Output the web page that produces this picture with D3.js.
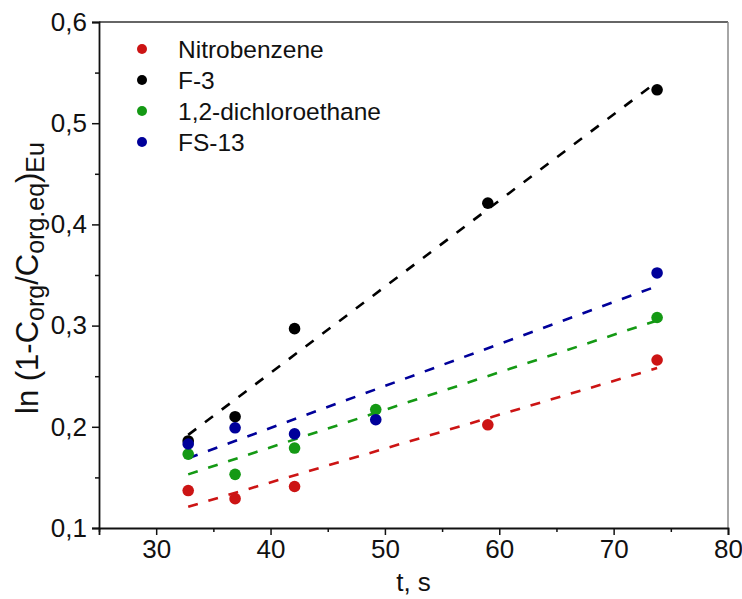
<!DOCTYPE html>
<html>
<head>
<meta charset="utf-8">
<script src="https://cdn.jsdelivr.net/npm/d3@7/dist/d3.min.js"></script>
<style>
  html, body { margin: 0; padding: 0; background: #fff; }
  svg { display: block; }
  text { font-family: "Liberation Sans", Arial, sans-serif; fill: #111; }
</style>
</head>
<body>
<svg id="chart" width="742" height="599"></svg>
<script>
// ---- data ----
const seriesNames = ["F-3", "Nitrobenzene", "1,2-dichloroethane", "FS-13"];
const legendOrder = ["Nitrobenzene", "F-3", "1,2-dichloroethane", "FS-13"];
const seriesColors = { "Nitrobenzene": "#cc1414", "F-3": "#000000", "1,2-dichloroethane": "#149914", "FS-13": "#00009a" };

const nitroT = [32.8, 36.9, 42.1, 59.0, 73.8];
const nitroY = [0.137, 0.129, 0.141, 0.202, 0.266];
const f3T = [32.8, 36.9, 42.1, 59.0, 73.8];
const f3Y = [0.186, 0.210, 0.297, 0.421, 0.533];
const dceT = [32.8, 36.9, 42.1, 49.2, 73.8];
const dceY = [0.173, 0.153, 0.179, 0.217, 0.308];
const fs13T = [32.8, 36.9, 42.1, 49.2, 73.8];
const fs13Y = [0.183, 0.199, 0.193, 0.207, 0.352];

// fitted line end points (t range and values)
const fitT = [32.8, 73.8];
const nitroFit = [0.121, 0.258];
const f3Fit = [0.192, 0.541];
const dceFit = [0.153, 0.305];
const fs13Fit = [0.169, 0.339];

const xMajorTicks = [30, 40, 50, 60, 70, 80];
const xMinorTicks = [25, 35, 45, 55, 65, 75];
const yMajorTicks = [0.1, 0.2, 0.3, 0.4, 0.5, 0.6];
const yMinorTicks = [0.15, 0.25, 0.35, 0.45, 0.55];

const seriesData = {
  "Nitrobenzene": { t: nitroT, y: nitroY, fit: nitroFit },
  "F-3": { t: f3T, y: f3Y, fit: f3Fit },
  "1,2-dichloroethane": { t: dceT, y: dceY, fit: dceFit },
  "FS-13": { t: fs13T, y: fs13Y, fit: fs13Fit }
};

// ---- layout ----
const L = 99, R = 728, T = 22, B = 528;
const svg = d3.select("#chart");

const x = d3.scaleLinear().domain([25, 80]).range([L, R]);
const y = d3.scaleLinear().domain([0.1, 0.6]).range([B, T]);

const fmt = v => d3.format(".1f")(v).replace(".", ",");

// frame: top and right
svg.append("line").attr("x1", L).attr("x2", R).attr("y1", T).attr("y2", T)
  .attr("stroke", "#333").attr("stroke-width", 1.5);
svg.append("line").attr("x1", R).attr("x2", R).attr("y1", T).attr("y2", B)
  .attr("stroke", "#888").attr("stroke-width", 1.5);

// x axis
svg.append("g").attr("transform", `translate(0,${B})`)
  .call(d3.axisBottom(x).tickValues(xMajorTicks).tickSize(7).tickPadding(5).tickFormat(d3.format("d")));
svg.append("g").attr("transform", `translate(0,${B})`)
  .call(d3.axisBottom(x).tickValues(xMinorTicks).tickSize(4).tickFormat(""))
  .call(g => g.select(".domain").remove());

// y axis
svg.append("g").attr("transform", `translate(${L},0)`)
  .call(d3.axisLeft(y).tickValues(yMajorTicks).tickSize(7).tickPadding(5).tickFormat(fmt));
svg.append("g").attr("transform", `translate(${L},0)`)
  .call(d3.axisLeft(y).tickValues(yMinorTicks).tickSize(4).tickFormat(""))
  .call(g => g.select(".domain").remove());

svg.selectAll(".domain").attr("stroke", "#111").attr("stroke-width", 1.8);
svg.selectAll(".tick line").attr("stroke", "#111").attr("stroke-width", 1.5);
svg.selectAll(".tick text").style("font-size", "26px").attr("fill", "#111")
  .style("font-family", "'Liberation Sans', Arial, sans-serif");

// axis titles
svg.append("text").attr("x", (L + R) / 2).attr("y", 591)
  .attr("text-anchor", "middle").style("font-size", "26px").text("t, s");

const yt = svg.append("text")
  .attr("transform", `translate(38,414) rotate(-90)`)
  .attr("text-anchor", "start").style("font-size", "31px");
yt.append("tspan").text("ln (1-C");
yt.append("tspan").attr("dy", 6).style("font-size", "25px").text("org");
yt.append("tspan").attr("dy", -6).text("/C");
yt.append("tspan").attr("dy", 6).style("font-size", "25px").text("org.eq");
yt.append("tspan").attr("dy", -6).text(")");
yt.append("tspan").attr("dy", 6).style("font-size", "25px").text("Eu");

// fit lines
const line = d3.line().x(d => x(d[0])).y(d => y(d[1]));
seriesNames.forEach(name => {
  const s = seriesData[name];
  svg.append("path")
    .datum(d3.zip(fitT, s.fit))
    .attr("d", line)
    .attr("fill", "none")
    .attr("stroke", seriesColors[name])
    .attr("stroke-width", 2.6)
    .attr("stroke-dasharray", "10,11");
});

// points
seriesNames.forEach(name => {
  const s = seriesData[name];
  svg.append("g").selectAll("circle")
    .data(d3.zip(s.t, s.y))
    .join("circle")
    .attr("cx", d => x(d[0]))
    .attr("cy", d => y(d[1]))
    .attr("r", 5.8)
    .attr("fill", seriesColors[name]);
});

// legend
const leg = svg.append("g");
legendOrder.forEach((name, i) => {
  const cy = 49 + i * 31;
  leg.append("circle").attr("cx", 142).attr("cy", cy).attr("r", 5)
    .attr("fill", seriesColors[name]);
  leg.append("text").attr("x", 178).attr("y", cy).attr("dy", "0.35em")
    .style("font-size", "24.5px").text(name);
});
</script>
</body>
</html>
